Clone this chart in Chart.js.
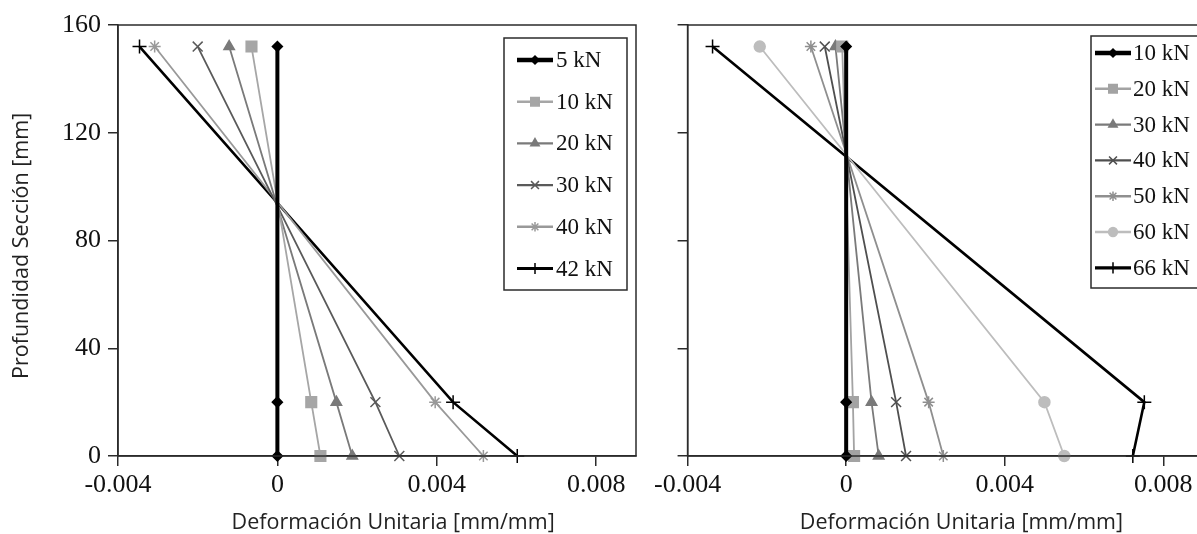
<!DOCTYPE html>
<html>
<head>
<meta charset="utf-8">
<script src="https://cdn.jsdelivr.net/npm/chart.js@4.4.1/dist/chart.umd.min.js"></script>
<style>
  html, body { margin: 0; padding: 0; background: #fff; overflow: hidden; width: 1197px; height: 534px; }
  #c-left  { position: absolute; left: 0;     top: 0; }
  #c-right { position: absolute; left: 650px; top: 0; }
</style>
</head>
<body>
<canvas id="c-left" width="650" height="534"></canvas>
<canvas id="c-right" width="562" height="534"></canvas>
<script>
// ── DATA ───────────────────────────────────────────────────────────────────

// depth of the three measuring points [mm]
const DEPTHS = [152, 20, 0];

const X_TICKS       = [-0.004, 0, 0.004, 0.008];
const X_TICK_LABELS = ['-0.004', '0', '0.004', '0.008'];
const Y_TICKS       = [0, 40, 80, 120, 160];

// left panel: strain at each depth, per load
const LEFT_LABELS = ['5 kN', '10 kN', '20 kN', '30 kN', '40 kN', '42 kN'];
const L_5KN  = [0.00000, 0.00000, 0.00000];
const L_10KN = [-0.00065, 0.00085, 0.00108];
const L_20KN = [-0.00121, 0.00148, 0.00188];
const L_30KN = [-0.00200, 0.00246, 0.00306];
const L_40KN = [-0.00308, 0.00396, 0.00517];
const L_42KN = [-0.00346, 0.00441, 0.00602];

// right panel
const RIGHT_LABELS = ['10 kN', '20 kN', '30 kN', '40 kN', '50 kN', '60 kN', '66 kN'];
const R_10KN = [0.00000, 0.00000, 0.00000];
const R_20KN = [-0.00010, 0.00017, 0.00020];
const R_30KN = [-0.00027, 0.00064, 0.00082];
const R_40KN = [-0.00054, 0.00126, 0.00151];
const R_50KN = [-0.00089, 0.00208, 0.00245];
const R_60KN = [-0.00218, 0.00500, 0.00550];
const R_66KN = [-0.00337, 0.00752, 0.00723];

// ── STYLES ─────────────────────────────────────────────────────────────────

const INK        = '#2b2b2b';
const TICK_FONT  = { family: '"Liberation Serif", serif', size: 26 };
const TITLE_FONT = { family: '"Open Sans", sans-serif', size: 21.5 };
const LEG_FONT   = { family: '"Liberation Serif", serif', size: 23 };

// titles sit a little off-centre in the original; padded with en spaces
const X_TITLE = '\u2002\u2002\u2002Deformación Unitaria [mm/mm]';
const Y_TITLE = 'Profundidad Sección [mm]\u2002';

// one entry per series: colour, line width, marker
const LEFT_STYLES = [
  { color: '#000000', width: 4,   style: 'rectRot',  r: 5 },
  { color: '#a6a6a6', width: 1.8, style: 'rect',     r: 7.5 },
  { color: '#7a7a7a', width: 1.8, style: 'triangle', r: 6 },
  { color: '#5a5a5a', width: 1.8, style: 'crossRot', r: 7 },
  { color: '#999999', width: 1.8, style: 'star',     r: 6 },
  { color: '#000000', width: 2.6, style: 'cross',    r: 7 },
];
const RIGHT_STYLES = [
  { color: '#000000', width: 4,   style: 'rectRot',  r: 5 },
  { color: '#a3a3a3', width: 1.8, style: 'rect',     r: 7.5 },
  { color: '#7a7a7a', width: 1.8, style: 'triangle', r: 6 },
  { color: '#4f4f4f', width: 1.8, style: 'crossRot', r: 7 },
  { color: '#8f8f8f', width: 1.8, style: 'star',     r: 6 },
  { color: '#bdbdbd', width: 1.8, style: 'circle',   r: 5.5 },
  { color: '#000000', width: 2.6, style: 'cross',    r: 7 },
];

// ── PLUGINS ────────────────────────────────────────────────────────────────

// closes the plot box on top and right
const frame = {
  id: 'frame',
  afterDraw(chart) {
    const { ctx, chartArea: a } = chart;
    ctx.save();
    ctx.strokeStyle = INK;
    ctx.lineWidth = 1.5;
    ctx.strokeRect(a.left, a.top, a.right - a.left, a.bottom - a.top);
    ctx.restore();
  },
};

// boxed legend with line + marker samples
const boxLegend = {
  id: 'boxLegend',
  afterDraw(chart, args, o) {
    const ctx = chart.ctx;
    ctx.save();
    ctx.fillStyle = '#fff';
    ctx.fillRect(o.x, o.y, o.w, o.h);
    ctx.strokeStyle = INK;
    ctx.lineWidth = 1.5;
    ctx.strokeRect(o.x, o.y, o.w, o.h);
    chart.data.datasets.forEach((ds, i) => {
      const y = o.row0 + i * o.step;
      ctx.strokeStyle = ds.borderColor;
      ctx.fillStyle = ds.borderColor;
      ctx.lineWidth = ds.borderWidth + 0.6;
      ctx.beginPath();
      ctx.moveTo(o.segX, y);
      ctx.lineTo(o.segX + o.segW, y);
      ctx.stroke();
      ctx.lineWidth = 1.5;
      Chart.helpers.drawPoint(ctx, { pointStyle: ds.pointStyle, rotation: 0, radius: ds.pointRadius * 0.8, borderWidth: 1.5 },
        o.segX + o.segW / 2, y);
      ctx.fillStyle = '#111';
      ctx.font = `${LEG_FONT.size}px ${LEG_FONT.family}`;
      ctx.textBaseline = 'middle';
      ctx.fillText(ds.label, o.textX, y + 1);
    });
    ctx.restore();
  },
};

// ── BUILDERS ───────────────────────────────────────────────────────────────

function makeDatasets(labels, series, styles) {
  return labels.map((label, i) => ({
    label,
    data: series[i].map((v, k) => ({ x: v, y: DEPTHS[k] })),
    showLine: true,
    borderColor: styles[i].color,
    backgroundColor: styles[i].color,
    borderWidth: styles[i].width,
    pointStyle: styles[i].style,
    pointRadius: styles[i].r,
    pointBorderWidth: 1.5,
    pointHoverRadius: styles[i].r,
    clip: false,
  }));
}

function makeChart(id, datasets, yWidth, showYLabels, padRight, legend) {
  return new Chart(document.getElementById(id), {
    type: 'scatter',
    data: { datasets },
    plugins: [frame, boxLegend],
    options: {
      responsive: false,
      animation: false,
      layout: { padding: { left: 0, right: padRight, top: 25, bottom: 0 } },
      plugins: { legend: { display: false }, tooltip: { enabled: false }, boxLegend: legend },
      scales: {
        x: {
          type: 'linear', min: -0.004, max: 0.009,
          afterBuildTicks: s => { s.ticks = X_TICKS.map(v => ({ value: v })); },
          afterFit: s => { s.height = 78; },
          ticks: { font: TICK_FONT, color: '#111', padding: 4, maxRotation: 0, callback: (v, i) => X_TICK_LABELS[i] },
          grid: { drawOnChartArea: false, drawTicks: true, tickLength: 10, color: INK, lineWidth: 1.5 },
          border: { color: INK, width: 1.5 },
          title: { display: true, text: X_TITLE, font: TITLE_FONT, color: '#222', padding: { top: 0, bottom: -2 } },
        },
        y: {
          type: 'linear', min: 0, max: 160,
          afterBuildTicks: s => { s.ticks = Y_TICKS.map(v => ({ value: v })); },
          afterFit: s => { s.width = yWidth; },
          ticks: { display: showYLabels, font: TICK_FONT, color: '#111', padding: 7 },
          grid: { drawOnChartArea: false, drawTicks: true, tickLength: 10, color: INK, lineWidth: 1.5 },
          border: { color: INK, width: 1.5 },
          title: { display: showYLabels, text: Y_TITLE, font: TITLE_FONT, color: '#222', padding: { top: 9, bottom: 0 } },
        },
      },
    },
  });
}

makeChart('c-left',
  makeDatasets(LEFT_LABELS, [L_5KN, L_10KN, L_20KN, L_30KN, L_40KN, L_42KN], LEFT_STYLES),
  118, true, 14,
  { x: 504, y: 38, w: 123, h: 252, row0: 60, step: 41.7, segX: 517, segW: 36, textX: 556 });

makeChart('c-right',
  makeDatasets(RIGHT_LABELS, [R_10KN, R_20KN, R_30KN, R_40KN, R_50KN, R_60KN, R_66KN], RIGHT_STYLES),
  32, false, 2,
  { x: 441, y: 36, w: 108, h: 252, row0: 53, step: 35.8, segX: 445, segW: 36, textX: 483 });
</script>
</body>
</html>
